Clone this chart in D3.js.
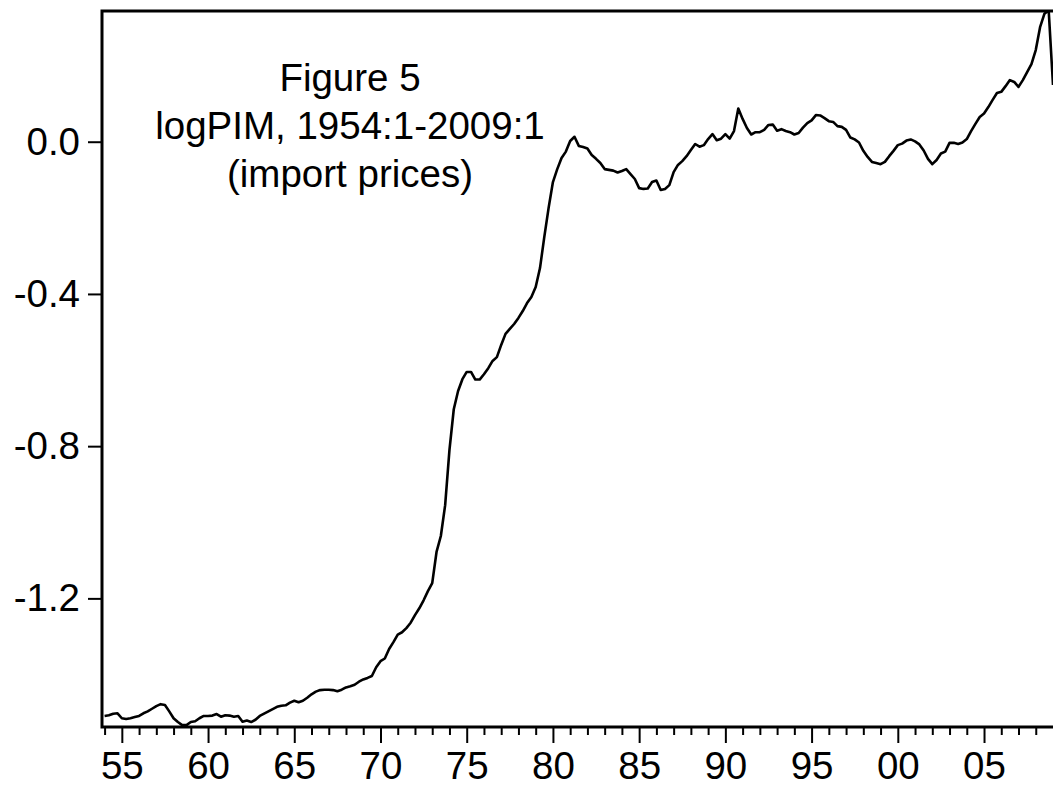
<!DOCTYPE html>
<html>
<head>
<meta charset="utf-8">
<script src="https://cdn.jsdelivr.net/npm/d3@7"></script>
<style>
body { margin: 0; background: #fff; }
text { font-family: "Liberation Sans", Arial, sans-serif; }
</style>
</head>
<body>
<script>

// logPIM, quarterly, starting 1954:1
var startYear = 1954;
var pim1950s = [
	-1.509, -1.507, -1.503, -1.502,
	-1.515, -1.517, -1.515, -1.512,
	-1.509, -1.502, -1.497, -1.490,
	-1.483, -1.478, -1.480, -1.497,
	-1.515, -1.525, -1.533, -1.533,
	-1.525, -1.523, -1.515, -1.509];
var pim1960s = [
	-1.509, -1.508, -1.504, -1.511,
	-1.507, -1.508, -1.511, -1.509,
	-1.524, -1.521, -1.525, -1.519,
	-1.509, -1.503, -1.497, -1.491,
	-1.485, -1.482, -1.481, -1.474,
	-1.469, -1.473, -1.469, -1.461,
	-1.452, -1.445, -1.441, -1.440,
	-1.440, -1.441, -1.444, -1.440,
	-1.434, -1.431, -1.427, -1.419,
	-1.413, -1.409, -1.404, -1.381];
var pim1970s = [
	-1.365, -1.358, -1.333, -1.315,
	-1.295, -1.289, -1.278, -1.264,
	-1.244, -1.226, -1.205, -1.181,
	-1.160, -1.078, -1.036, -0.955,
	-0.810, -0.703, -0.655, -0.624,
	-0.605, -0.605, -0.625, -0.625,
	-0.611, -0.595, -0.576, -0.566,
	-0.534, -0.505, -0.492, -0.479,
	-0.463, -0.445, -0.424, -0.408,
	-0.382, -0.332, -0.250, -0.174];
var pim1980s = [
	-0.106, -0.072, -0.043, -0.026,
	0.002, 0.013, -0.011, -0.014,
	-0.018, -0.035, -0.045, -0.056,
	-0.072, -0.074, -0.076, -0.081,
	-0.077, -0.072, -0.085, -0.098,
	-0.122, -0.124, -0.123, -0.106,
	-0.102, -0.127, -0.124, -0.114,
	-0.080, -0.061, -0.051, -0.038,
	-0.022, -0.006, -0.013, -0.009,
	0.007, 0.020, 0.004, 0.008];
var pim1990s = [
	0.020, 0.008, 0.028, 0.087,
	0.060, 0.036, 0.019, 0.025,
	0.025, 0.031, 0.044, 0.045,
	0.029, 0.033, 0.028, 0.025,
	0.019, 0.023, 0.037, 0.049,
	0.056, 0.070, 0.069, 0.062,
	0.054, 0.052, 0.041, 0.039,
	0.031, 0.011, 0.006, -0.002,
	-0.024, -0.040, -0.053, -0.056,
	-0.059, -0.053, -0.038, -0.024];
var pim2000s = [
	-0.009, -0.005, 0.003, 0.006,
	0.001, -0.007, -0.023, -0.045,
	-0.059, -0.048, -0.031, -0.026,
	-0.003, -0.003, -0.006, -0.002,
	0.007, 0.028, 0.047, 0.065,
	0.074, 0.091, 0.110, 0.128,
	0.131, 0.146, 0.162, 0.157,
	0.144, 0.162, 0.183, 0.204,
	0.241, 0.301, 0.336, 0.345,
	0.149];

var yTicks = [0.0, -0.4, -0.8, -1.2];
var xTickYears = d3.range(1954, 2009);
var titleLines = ["Figure 5", "logPIM, 1954:1-2009:1", "(import prices)"];

var width = 1053
var height = 789
var plot = {left: 102, right: 1053, top: 11, bottom: 727};

var values = pim1950s.concat(pim1960s, pim1970s, pim1980s, pim1990s, pim2000s);
var data = values.map((v, i) => { return {t: startYear + i / 4, v: v}; });

var svg = d3.select("body")
	.append("svg")
		.attr("width", width)
		.attr("height", height);

var x = d3.scaleLinear()
	.domain([1953.85, 2009])
	.range([plot.left, plot.right]);

var y = d3.scaleLinear()
	.domain([-1.538, 0.3435])
	.range([plot.bottom, plot.top]);

svg.append("clipPath")
	.attr("id", "clip")
	.append("rect")
		.attr("x", plot.left)
		.attr("y", plot.top)
		.attr("width", plot.right - plot.left)
		.attr("height", plot.bottom - plot.top);

// series line
var line = d3.line()
	.x((d) => { return x(d.t); })
	.y((d) => { return y(d.v); });

svg.append("path")
	.datum(data)
	.attr("clip-path", "url(#clip)")
	.attr("fill", "none")
	.attr("stroke", "#000")
	.attr("stroke-width", 2.6)
	.attr("stroke-linejoin", "round")
	.attr("d", line);

// x axis: minor yearly ticks + labelled ticks every 5 years
var minorAxis = d3.axisBottom(x)
	.tickValues(xTickYears.filter((d) => { return d % 5 != 0; }))
	.tickSize(8)
	.tickSizeOuter(0)
	.tickFormat("");

var majorAxis = d3.axisBottom(x)
	.tickValues(xTickYears.filter((d) => { return d % 5 == 0; }))
	.tickSize(16)
	.tickSizeOuter(0)
	.tickPadding(9)
	.tickFormat((d) => { return String(d % 100).padStart(2, "0"); });

svg.append("g")
	.attr("class", "x axis minor")
	.attr("transform", "translate(0, " + plot.bottom + ")")
	.call(minorAxis);

svg.append("g")
	.attr("class", "x axis")
	.attr("transform", "translate(0, " + plot.bottom + ")")
	.call(majorAxis);

var leftAxis = d3.axisLeft(y)
	.tickValues(yTicks)
	.tickSize(14)
	.tickSizeOuter(0)
	.tickPadding(8)
	.tickFormat((d) => { return d.toFixed(1); });

svg.append("g")
	.attr("class", "y axis")
	.attr("transform", "translate(" + plot.left + ", 0)")
	.call(leftAxis);

svg.selectAll(".axis path.domain").remove();
svg.selectAll(".axis line")
	.attr("stroke", "#000")
	.attr("stroke-width", 2);
svg.selectAll(".axis text")
	.attr("font-size", "38.5px")
	.attr("fill", "#000");

// frame: left, bottom and top
svg.append("path")
	.attr("fill", "none")
	.attr("stroke", "#000")
	.attr("stroke-width", 3)
	.attr("d", "M" + plot.right + "," + plot.top + "H" + plot.left + "V" + plot.bottom + "H" + plot.right);

// title block inside plot
svg.append("g")
	.selectAll("text")
	.data(titleLines)
	.enter()
	.append("text")
		.attr("x", 350)
		.attr("y", (d, i) => { return 91 + i * 48; })
		.attr("text-anchor", "middle")
		.attr("font-size", "38.5px")
		.style("fill", "black")
		.text((d) => { return d; });

</script>
</body>
</html>
